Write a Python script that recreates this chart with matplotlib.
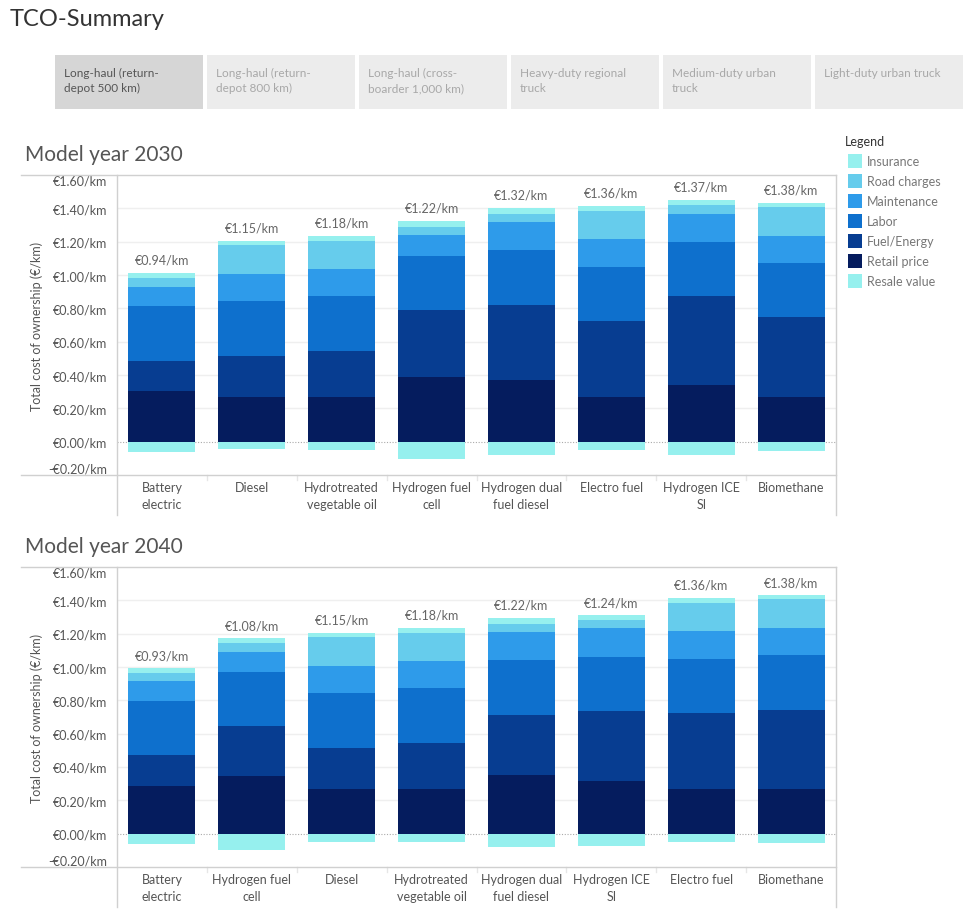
import matplotlib
matplotlib.use("Agg")
import matplotlib.pyplot as plt
from matplotlib.lines import Line2D
from matplotlib.patches import Rectangle

plt.rcParams['font.family'] = ['Lato', 'DejaVu Sans']

W, H = 971, 920

# ---- data ----
tabs = ["Long-haul (return-\ndepot 500 km)", "Long-haul (return-\ndepot 800 km)",
        "Long-haul (cross-\nboarder 1,000 km)", "Heavy-duty regional\ntruck",
        "Medium-duty urban\ntruck", "Light-duty urban truck"]

components = ["Retail price", "Fuel/Energy", "Labor", "Maintenance", "Road charges", "Insurance"]

cats_2030 = ["Battery\nelectric", "Diesel", "Hydrotreated\nvegetable oil", "Hydrogen fuel\ncell",
             "Hydrogen dual\nfuel diesel", "Electro fuel", "Hydrogen ICE\nSI", "Biomethane"]
retail_2030 = [0.306, 0.27, 0.27, 0.39, 0.372, 0.27, 0.342, 0.27]
fuel_2030 = [0.18, 0.246, 0.276, 0.402, 0.45, 0.456, 0.534, 0.48]
labor_2030 = [0.33, 0.33, 0.33, 0.324, 0.33, 0.324, 0.324, 0.324]
maint_2030 = [0.114, 0.162, 0.162, 0.126, 0.168, 0.168, 0.168, 0.162]
road_2030 = [0.054, 0.174, 0.168, 0.048, 0.048, 0.168, 0.054, 0.174]
insur_2030 = [0.03, 0.024, 0.03, 0.036, 0.036, 0.03, 0.03, 0.024]
resale_2030 = [-0.064, -0.046, -0.048, -0.102, -0.078, -0.048, -0.078, -0.054]
total_2030 = [0.94, 1.15, 1.18, 1.22, 1.32, 1.36, 1.37, 1.38]

cats_2040 = ["Battery\nelectric", "Hydrogen fuel\ncell", "Diesel", "Hydrotreated\nvegetable oil",
             "Hydrogen dual\nfuel diesel", "Hydrogen ICE\nSI", "Electro fuel", "Biomethane"]
retail_2040 = [0.287, 0.347, 0.27, 0.27, 0.353, 0.317, 0.27, 0.27]
fuel_2040 = [0.186, 0.30, 0.246, 0.276, 0.36, 0.42, 0.456, 0.474]
labor_2040 = [0.323, 0.323, 0.33, 0.33, 0.33, 0.324, 0.324, 0.328]
maint_2040 = [0.12, 0.12, 0.162, 0.162, 0.168, 0.172, 0.168, 0.162]
road_2040 = [0.048, 0.054, 0.174, 0.168, 0.048, 0.048, 0.168, 0.174]
insur_2040 = [0.03, 0.03, 0.024, 0.03, 0.036, 0.03, 0.03, 0.024]
resale_2040 = [-0.064, -0.096, -0.048, -0.048, -0.078, -0.072, -0.048, -0.054]
total_2040 = [0.93, 1.08, 1.15, 1.18, 1.22, 1.24, 1.36, 1.38]

yticks = [-0.2, 0.0, 0.2, 0.4, 0.6, 0.8, 1.0, 1.2, 1.4, 1.6]

colors = {"Insurance": "#96f0ee", "Road charges": "#66ccec", "Maintenance": "#2e9bea",
          "Labor": "#0e70cd", "Fuel/Energy": "#073d91", "Retail price": "#051c5e",
          "Resale value": "#96f0ee"}
legend_order = ["Insurance", "Road charges", "Maintenance", "Labor", "Fuel/Energy",
                "Retail price", "Resale value"]

FRAME = "#d0d0d0"
TXT = "#555555"


def fx(x):
    return x / W


def fy(y):
    return 1 - y / H


def hline(fig, x0, x1, y, color=FRAME, lw=1):
    fig.add_artist(Line2D([fx(x0), fx(x1)], [fy(y), fy(y)], color=color, lw=lw))


def vline(fig, x, y0, y1, color=FRAME, lw=1):
    fig.add_artist(Line2D([fx(x), fx(x)], [fy(y0), fy(y1)], color=color, lw=lw))


fig = plt.figure(figsize=(W / 100, H / 100), dpi=100)
fig.patch.set_facecolor("white")

fig.text(fx(10), fy(20), "TCO-Summary", fontsize=17, color="#333333", va="center", ha="left")

# tabs row
for i, t in enumerate(tabs):
    x0 = 55 + i * 152
    bg = "#d6d6d6" if i == 0 else "#ececec"
    fc = "#555555" if i == 0 else "#a8a8a8"
    fig.add_artist(Rectangle((fx(x0), fy(110)), 148 / W, 54 / H, transform=fig.transFigure,
                             facecolor=bg, edgecolor="none"))
    fig.text(fx(x0 + 9), fy(68), t, fontsize=8.5, color=fc, va="top", ha="left",
             linespacing=1.45)


def draw_panel(title, top, cats, stacks, resale, totals):
    left, right = 117, 836
    bottom = top + 300
    fig.text(fx(25), fy(top - 21), title, fontsize=15, color="#555555", va="center", ha="left")

    ax = fig.add_axes([fx(left), fy(bottom), (right - left) / W, 300 / H])
    x = list(range(len(cats)))
    base = [0.0] * len(cats)
    for name, vals in zip(components, stacks):
        ax.bar(x, vals, bottom=base, width=0.745, color=colors[name], linewidth=0, zorder=3)
        base = [b + v for b, v in zip(base, vals)]
    ax.bar(x, resale, width=0.745, color=colors["Resale value"], linewidth=0, zorder=3)

    for xi, b, t in zip(x, base, totals):
        ax.annotate("€%.2f/km" % t, (xi, b), xytext=(0, 5), textcoords="offset points",
                    ha="center", va="bottom", fontsize=9, color="#666666")

    ax.set_xlim(-0.5, len(cats) - 0.5)
    ax.set_ylim(-0.2, 1.6)
    ax.set_yticks(yticks)
    ax.set_yticklabels([("-€%.2f/km" % abs(v)) if v < 0 else ("€%.2f/km" % v) for v in yticks])
    ax.tick_params(axis="y", length=0, pad=7, labelsize=9, labelcolor=TXT)
    labels = ax.get_yticklabels()
    labels[0].set_va("bottom")
    labels[-1].set_va("top")
    ax.set_xticks([])
    for s in ax.spines.values():
        s.set_visible(False)
    for v in yticks[2:-1]:
        ax.axhline(v, color="#efefef", lw=1, zorder=1)
    ax.axhline(0, color="#aaaaaa", lw=0.8, ls=(0, (1, 1.5)), zorder=2)

    for xi, c in zip(x, cats):
        ax.text(xi, -0.02, c, transform=ax.get_xaxis_transform(), ha="center", va="top",
                fontsize=9, color=TXT, linespacing=1.5)
        if xi > 0:
            px = left + (right - left) * xi / len(cats)
            vline(fig, px, bottom, bottom + 5, color="#e6e6e6")

    fig.text(fx(37), fy(top + 150), "Total cost of ownership (€/km)", rotation=90,
             fontsize=9, color=TXT, ha="center", va="center")

    # panel frame
    hline(fig, 21, right, top)
    hline(fig, 21, right, bottom)
    vline(fig, left, top, bottom + 40)
    vline(fig, right, top, bottom + 40)


draw_panel("Model year 2030", 176, cats_2030,
           [retail_2030, fuel_2030, labor_2030, maint_2030, road_2030, insur_2030],
           resale_2030, total_2030)
draw_panel("Model year 2040", 568, cats_2040,
           [retail_2040, fuel_2040, labor_2040, maint_2040, road_2040, insur_2040],
           resale_2040, total_2040)

# legend
fig.text(fx(845), fy(142), "Legend", fontsize=9, color="#333333", va="center", ha="left")
for i, name in enumerate(legend_order):
    yc = 162 + i * 20
    fig.add_artist(Rectangle((fx(848), fy(yc + 7)), 14 / W, 14 / H, transform=fig.transFigure,
                             facecolor=colors[name], edgecolor="none"))
    fig.text(fx(867), fy(yc), name, fontsize=9, color="#777777", va="center", ha="left")

fig.savefig("out.png", dpi=100)
